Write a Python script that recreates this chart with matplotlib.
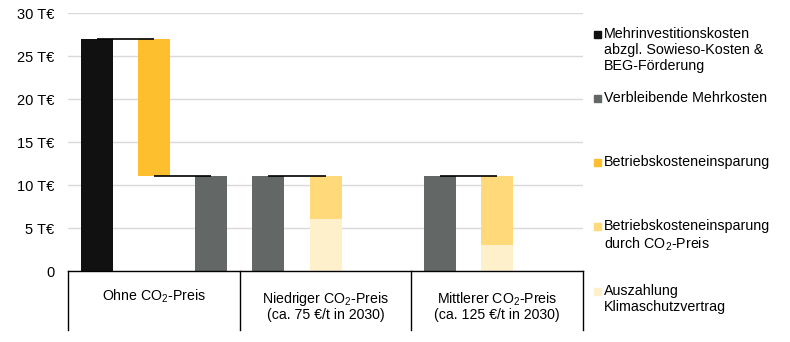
import matplotlib.pyplot as plt
from matplotlib.patches import Rectangle

plt.rcParams['font.family'] = ['Liberation Sans', 'DejaVu Sans']
plt.rcParams['mathtext.fontset'] = 'custom'
plt.rcParams['mathtext.rm'] = 'Liberation Sans'
plt.rcParams['mathtext.it'] = 'Liberation Sans:italic'

CO2 = r"CO$_\mathregular{2}$"

# data (T€)
groups = [f"Ohne {CO2}-Preis",
          f"Niedriger {CO2}-Preis\n(ca. 75 €/t in 2030)",
          f"Mittlerer {CO2}-Preis\n(ca. 125 €/t in 2030)"]
mehrinvest = 27
betrieb_einsparung = 16
verbleibend = [11, 11, 11]
co2_einsparung = [5, 8]      # Niedriger, Mittlerer
klimavertrag = [6, 3]

ticks = [0, 5, 10, 15, 20, 25, 30]
tick_labels = ["0", "5 T€", "10 T€", "15 T€", "20 T€", "25 T€", "30 T€"]

legend_labels = ["Mehrinvestitionskosten\nabzgl. Sowieso-Kosten &\nBEG-Förderung",
                 "Verbleibende Mehrkosten",
                 "Betriebskosteneinsparung",
                 f"Betriebskosteneinsparung\ndurch {CO2}-Preis",
                 "Auszahlung\nKlimaschutzvertrag"]

c_black = "#111111"
c_gray = "#636866"
c_yellow = "#FDBF2D"
c_light = "#FFD97A"
c_pale = "#FFF0CC"
colors = [c_black, c_gray, c_yellow, c_light, c_pale]

w = 0.56
fig = plt.figure(figsize=(7.9, 3.42), dpi=100)
ax = fig.add_axes([0.0861, 0.2076, 0.652, 0.754])

# group 1: waterfall
ax.bar(0, mehrinvest, w, color=c_black)
ax.bar(1, betrieb_einsparung, w, bottom=mehrinvest - betrieb_einsparung, color=c_yellow)
ax.bar(2, verbleibend[0], w, color=c_gray)
ax.hlines(mehrinvest, 0, 1, color="black", lw=1.2, zorder=3)
ax.hlines(verbleibend[0], 1, 2, color="black", lw=1.2, zorder=3)

# groups 2 and 3
for i, base in enumerate([3, 6]):
    ax.bar(base, verbleibend[i + 1], w, color=c_gray)
    ax.bar(base + 1, klimavertrag[i], w, color=c_pale)
    ax.bar(base + 1, co2_einsparung[i], w, bottom=klimavertrag[i], color=c_light)
    ax.hlines(verbleibend[i + 1], base, base + 1, color="black", lw=1.2, zorder=3)

ax.set_xlim(-0.5, 8.5)
ax.set_ylim(0, 30)
ax.set_yticks(ticks)
ax.set_yticklabels(tick_labels, fontsize=10.5)
ax.tick_params(axis='y', length=0, pad=10)
ax.set_xticks([])
ax.grid(axis='y', color="#d9d9d9", lw=1)
ax.set_axisbelow(True)
for s in ["left", "right", "top"]:
    ax.spines[s].set_visible(False)
ax.spines["bottom"].set_color("black")
ax.spines["bottom"].set_linewidth(1)

# group separators and labels
tr = ax.get_xaxis_transform()
for xs in [-0.5, 2.5, 5.5, 8.5]:
    ax.plot([xs, xs], [0, -0.23], color="black", lw=1, transform=tr, clip_on=False)
for i, g in enumerate(groups):
    y = -0.10 if i == 0 else -0.135
    ax.text(1 + 3 * i, y, g, transform=tr, ha="center", va="center", fontsize=10.2,
            linespacing=1.0)

# legend
tops = [27, 91, 155, 219, 284]
for lab, col, t in zip(legend_labels, colors, tops):
    fig.text(604 / 790, 1 - t / 342, lab, ha="left", va="top", fontsize=10.3,
             linespacing=1.2)
    fig.patches.append(Rectangle((594 / 790, 1 - (t + 11) / 342), 7 / 790, 7 / 342,
                                 transform=fig.transFigure, color=col))

fig.savefig("out.png", dpi=100)
